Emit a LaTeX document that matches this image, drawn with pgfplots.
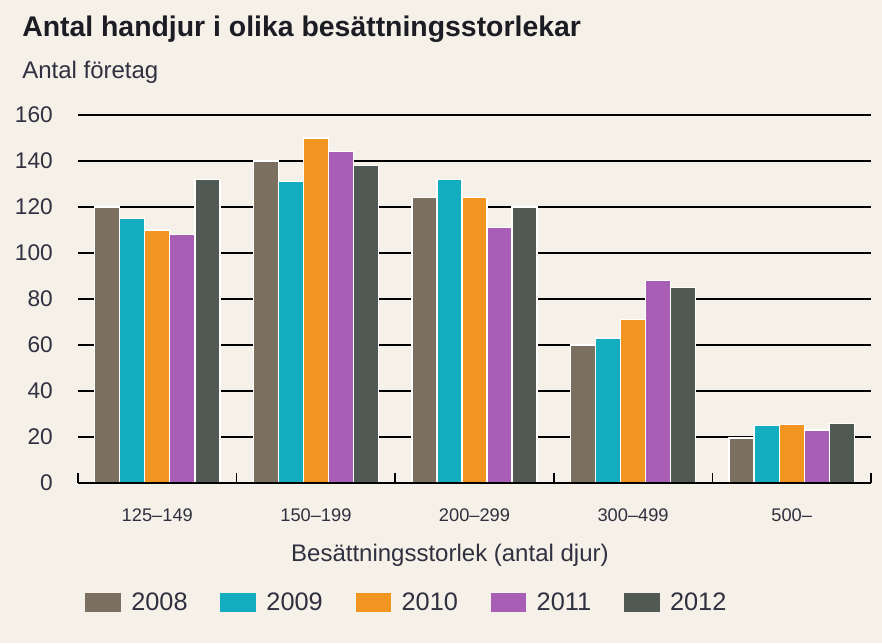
\documentclass[border=0pt]{standalone}
\usepackage{pgfplots}
\pgfplotsset{compat=1.18}
\usepackage{fontspec}
\setmainfont{Liberation Sans}

\definecolor{bg}{HTML}{F5F1E8}
\definecolor{txt}{HTML}{2F3040}
\definecolor{ttl}{HTML}{1C1C24}
\definecolor{c2008}{HTML}{7B6F5F}
\definecolor{c2009}{HTML}{14ADC0}
\definecolor{c2010}{HTML}{F29420}
\definecolor{c2011}{HTML}{A85EB5}
\definecolor{c2012}{HTML}{515955}

\begin{document}
\begin{tikzpicture}
% page background, 882 x 643 px at 0.75pt per px
\fill[bg] (0pt,0pt) rectangle (661.5pt,482.25pt);
\node[anchor=base west, inner sep=0pt, text=ttl,
      font=\bfseries\fontsize{21.3}{24}\selectfont] at (16.5pt,455pt)
      {Antal handjur i olika besättningsstorlekar};
\node[anchor=base west, inner sep=0pt, text=txt,
      font=\fontsize{18}{21}\selectfont] at (16.5pt,423.5pt) {Antal företag};

\begin{axis}[
  at={(58.5pt,120pt)}, anchor=south west,
  scale only axis, width=594.75pt, height=276pt,
  xmin=-0.5, xmax=4.5, ymin=0, ymax=160,
  enlargelimits=false,
  ybar=0pt, bar width=0.158,
  axis line style={draw=none},
  ymajorgrids, major grid style={black, line width=1.2pt},
  ytick={0,20,...,160}, ytick style={draw=none},
  xtick={0,1,2,3,4},
  xticklabels={125–149,150–199,200–299,300–499,500–},
  xtick style={draw=none}, xtick pos=bottom,
  extra x ticks={-0.5,0.5,1.5,2.5,3.5,4.5},
  extra x tick labels={},
  extra x tick style={xtick style={draw=black, line width=1.2pt},
                      major tick length=7.5pt, tick align=inside},
  /pgf/number format/assume math mode=true,
  yticklabel style={anchor=east, inner sep=0pt, xshift=-18.7pt, text=txt,
                    font=\fontsize{17}{20}\selectfont},
  xticklabel style={anchor=north, inner sep=0pt, yshift=-15pt, text=txt,
                    font=\fontsize{13.7}{16}\selectfont},
  xlabel={Besättningsstorlek (antal djur)},
  xlabel style={at={(axis description cs:0.469,0)}, anchor=north,
                inner sep=0pt, yshift=-46pt, text=txt,
                font=\fontsize{18}{21}\selectfont},
  legend columns=-1,
  legend image code/.code={\fill[#1, draw=none] (0pt,-7.15pt) rectangle (26.8pt,7.15pt);},
  legend style={at={(axis description cs:0,0)}, anchor=west,
                xshift=5.25pt, yshift=-89.6pt,
                draw=none, fill=none, inner sep=0pt,
                text=txt, font=\fontsize{19}{22}\selectfont,
                nodes={inner sep=0pt},
                /tikz/every odd column/.append style={column sep=7.7pt},
                /tikz/every even column/.append style={column sep=24.6pt}},
  every axis plot/.append style={draw=white, line width=1pt},
]
\addplot[fill=c2008] coordinates {(0,120)(1,140)(2,124)(3,60)(4,19.5)};
\addplot[fill=c2009] coordinates {(0,115)(1,131)(2,132)(3,63)(4,25)};
\addplot[fill=c2010] coordinates {(0,110)(1,150)(2,124)(3,71)(4,25.5)};
\addplot[fill=c2011] coordinates {(0,108)(1,144)(2,111)(3,88)(4,23)};
\addplot[fill=c2012] coordinates {(0,132)(1,138)(2,120)(3,85)(4,26)};
\legend{2008,2009,2010,2011,2012}
\draw[black, line width=1.2pt] (axis cs:-0.5,0) -- (axis cs:4.5,0);
\end{axis}
\end{tikzpicture}
\end{document}
